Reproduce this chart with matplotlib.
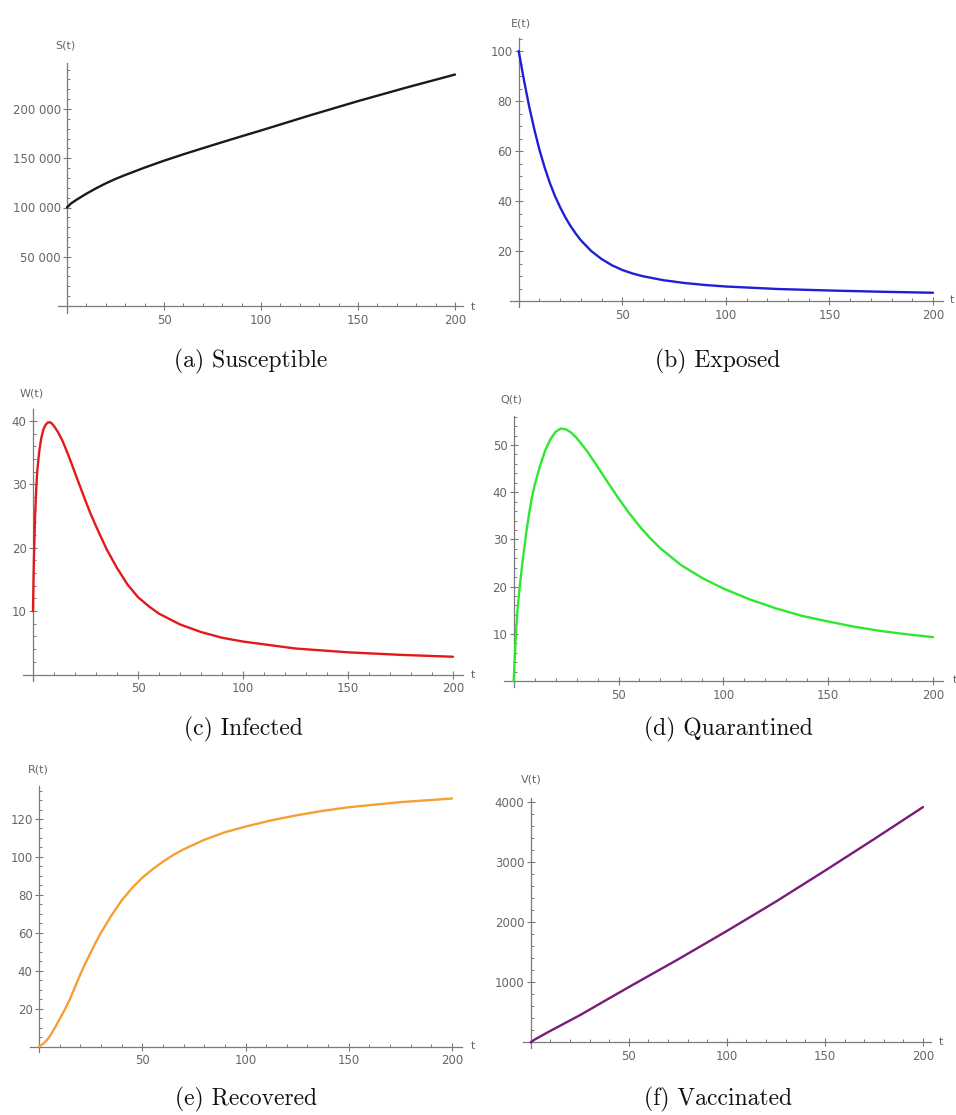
import matplotlib
matplotlib.use("Agg")
import matplotlib.pyplot as plt
from matplotlib.ticker import MultipleLocator, FixedLocator, FuncFormatter

W, H = 956, 1115

# ---------------- data ----------------
t_S = [0, 2, 5, 10, 15, 20, 25, 30, 40, 50, 60, 70, 80, 90, 100, 125, 150, 175, 200]
S_vals = [100000, 104000, 108000, 114000, 119500, 124500, 129000, 133000, 140500,
          147500, 154000, 160200, 166300, 172300, 178200, 193400, 208000, 221800,
          235000]

t_E = [0, 2.5, 5, 7.5, 10, 12.5, 15, 17.5, 20, 22.5, 25, 27.5, 30, 35, 40, 45, 50,
       55, 60, 70, 80, 90, 100, 125, 150, 175, 200]
E_vals = [100, 88.5, 78, 68.8, 60.5, 53.5, 47.3, 42, 37.5, 33.5, 30, 27, 24.3, 20,
          16.8, 14.3, 12.4, 11, 9.9, 8.3, 7.2, 6.4, 5.8, 4.8, 4.2, 3.7, 3.3]

t_W = [0, 0.25, 0.5, 1, 1.5, 2, 3, 4, 5, 6, 7, 8, 9, 10, 12, 14, 16, 18, 20, 22.5,
       25, 27.5, 30, 35, 40, 45, 50, 55, 60, 70, 80, 90, 100, 125, 150, 175, 200]
W_vals = [10, 15, 19, 25, 29, 32, 35.3, 37.4, 38.7, 39.4, 39.75, 39.8, 39.6, 39.2,
          38.2, 36.9, 35.3, 33.6, 31.8, 29.6, 27.4, 25.3, 23.4, 19.8, 16.8, 14.2,
          12.2, 10.8, 9.6, 7.9, 6.7, 5.8, 5.2, 4.1, 3.5, 3.1, 2.8]

t_Q = [0, 0.5, 1, 1.5, 2, 3, 4, 5, 6, 7, 8.5, 10, 12.5, 15, 17.5, 20, 22.5, 25,
       27.5, 30, 35, 40, 45, 50, 55, 60, 65, 70, 80, 90, 100, 112.5, 125, 137.5,
       150, 162.5, 175, 187.5, 200]
Q_vals = [0, 5, 9.5, 13, 16, 20.5, 24.5, 28, 31.5, 34.5, 38.5, 41.5, 45.5, 48.8,
          51.2, 52.8, 53.5, 53.3, 52.6, 51.5, 48.7, 45.4, 42, 38.7, 35.6, 32.8,
          30.3, 28.1, 24.5, 21.8, 19.6, 17.3, 15.4, 13.8, 12.6, 11.5, 10.6, 9.9, 9.3]

t_R = [0, 2.5, 5, 7.5, 10, 12.5, 15, 17.5, 20, 22.5, 25, 27.5, 30, 35, 40, 45, 50,
       55, 60, 65, 70, 80, 90, 100, 112.5, 125, 137.5, 150, 175, 200]
R_vals = [0, 1.8, 5, 9.5, 14.5, 19.5, 25, 31.5, 38, 44, 49.5, 55, 60, 69, 77, 83.5,
          89, 93.5, 97.5, 101, 104, 109, 113, 116, 119.3, 122, 124.3, 126.2, 128.9,
          130.8]

t_V = [0, 2, 5, 10, 25, 38, 50, 75, 100, 125, 150, 175, 200]
V_vals = [0, 45, 100, 190, 450, 695, 920, 1380, 1855, 2345, 2860, 3385, 3920]

x_ticks = [50, 100, 150, 200]
y_ticks_S = [50000, 100000, 150000, 200000]
y_ticks_E = [20, 40, 60, 80, 100]
y_ticks_W = [10, 20, 30, 40]
y_ticks_Q = [10, 20, 30, 40, 50]
y_ticks_R = [20, 40, 60, 80, 100, 120]
y_ticks_V = [1000, 2000, 3000, 4000]

ylabels = ["S(t)", "E(t)", "W(t)", "Q(t)", "R(t)", "V(t)"]
captions = ["(a) Susceptible", "(b) Exposed", "(c) Infected",
            "(d) Quarantined", "(e) Recovered", "(f) Vaccinated"]
colors = ["#1a1a1a", "#1f1fd8", "#e41a1a", "#2ee82e", "#f5a033", "#7a1a7a"]

# ---------------- figure ----------------
fig = plt.figure(figsize=(W / 100, H / 100), dpi=100)
AX_COL = "#7a7a7a"
LBL_COL = "#666666"


def fmt_num(v, pos):
    n = int(round(v))
    if abs(n) >= 10000:
        return f"{n:,}".replace(",", " ")
    return str(n)


def panel(x0p, x1p, xv1, y0p, y1p, yv1, xpix, ypix):
    sx = (x1p - x0p) / xv1
    sy = (y0p - y1p) / yv1
    xlim = ((xpix[0] - x0p) / sx, (xpix[1] - x0p) / sx)
    ylim = ((y0p - ypix[1]) / sy, (y0p - ypix[0]) / sy)
    rect = [xpix[0] / W, 1 - ypix[1] / H, (xpix[1] - xpix[0]) / W,
            (ypix[1] - ypix[0]) / H]
    ax = fig.add_axes(rect)
    ax.set_xlim(*xlim)
    ax.set_ylim(*ylim)
    ax.patch.set_alpha(0)
    return ax


specs = [
    # x0p, x200p, 200, y0p, yrefp, yref, xpix(l,r), ypix(top,bottom)
    (67, 455, 200, 306, 109, 200000, (58, 463), (63, 313)),
    (518.7, 933, 200, 301, 51, 100, (510, 943), (38, 307)),
    (33, 453, 200, 674.5, 421, 40, (23, 463), (409, 681)),
    (513.7, 933, 200, 681, 445, 50, (504, 943), (416, 687)),
    (39, 452, 200, 1046.5, 819, 120, (30, 462), (786, 1052)),
    (530.7, 923, 200, 1042.3, 802.3, 4000, (523, 931), (798, 1048)),
]
series = [(t_S, S_vals), (t_E, E_vals), (t_W, W_vals), (t_Q, Q_vals),
          (t_R, R_vals), (t_V, V_vals)]
yticks = [y_ticks_S, y_ticks_E, y_ticks_W, y_ticks_Q, y_ticks_R, y_ticks_V]
yminor = [10000, 5, 2, 2, 5, 200]
ylab_pos = [(65, 45), (521, 23), (32, 393), (511, 400), (38, 769), (531, 780)]
tlab_pos = [(473, 307), (952, 300), (473, 675), (955, 680), (473, 1046), (941, 1042)]
cap_pos = [(251, 361), (718, 361), (243, 729), (728, 729), (246, 1099), (718, 1099)]

for i in range(6):
    ax = panel(*specs[i])
    ts, vs = series[i]
    ax.plot(ts, vs, color=colors[i], lw=1.7, solid_capstyle="round",
            solid_joinstyle="round", zorder=3)
    for s in ["top", "right"]:
        ax.spines[s].set_visible(False)
    ax.spines["left"].set_position(("data", 0))
    ax.spines["bottom"].set_position(("data", 0))
    for s in ["left", "bottom"]:
        ax.spines[s].set_color(AX_COL)
        ax.spines[s].set_linewidth(0.9)
    ax.xaxis.set_major_locator(FixedLocator(x_ticks))
    ax.xaxis.set_minor_locator(MultipleLocator(10))
    ax.yaxis.set_major_locator(FixedLocator(yticks[i]))
    ax.yaxis.set_minor_locator(MultipleLocator(yminor[i]))
    ax.yaxis.set_major_formatter(FuncFormatter(fmt_num))
    ax.tick_params(which="major", direction="inout", length=6, width=0.8,
                   color=AX_COL, labelsize=8.5, labelcolor=LBL_COL, pad=1.5)
    ax.tick_params(which="minor", direction="in", length=2.5, width=0.7,
                   color=AX_COL)
    ax.tick_params(axis="x", which="major", pad=2.5)
    fig.text(ylab_pos[i][0] / W, 1 - ylab_pos[i][1] / H, ylabels[i],
             ha="center", va="center", fontsize=8, color=LBL_COL)
    fig.text(tlab_pos[i][0] / W, 1 - tlab_pos[i][1] / H, "t",
             ha="center", va="center", fontsize=8, color=LBL_COL)
    fig.text(cap_pos[i][0] / W, 1 - cap_pos[i][1] / H, captions[i],
             ha="center", va="center", fontsize=17, family="cmr10",
             color="#111111")

fig.savefig("out.png", dpi=100)
